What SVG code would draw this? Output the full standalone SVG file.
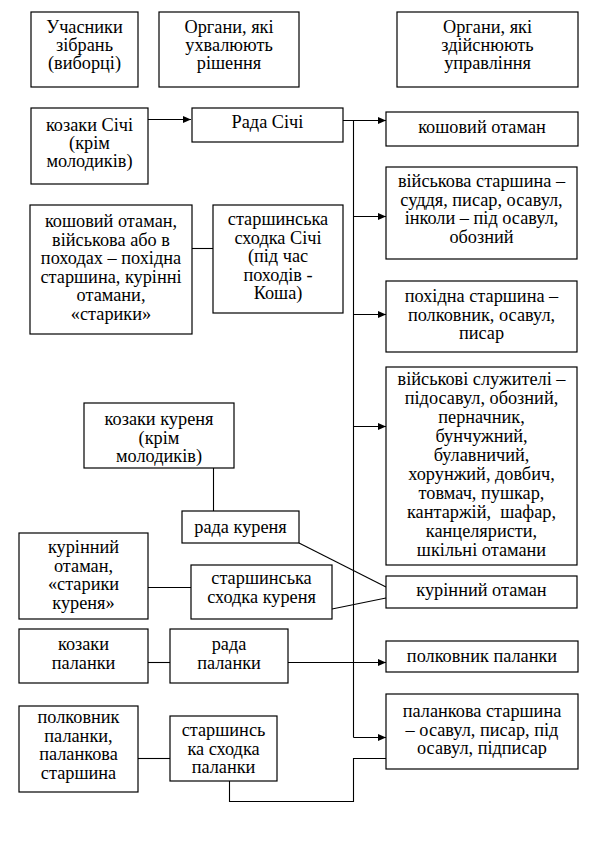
<svg xmlns="http://www.w3.org/2000/svg" width="598" height="858" viewBox="0 0 598 858">
<defs>
<style>
rect.b{fill:#fff;stroke:#000;stroke-width:1.2}
.t text{font-size:18.3px;fill:#000;text-anchor:middle}
.c line,.c polyline{stroke:#000;stroke-width:1.1;fill:none}
</style>
<marker id="ar" markerUnits="userSpaceOnUse" markerWidth="8" markerHeight="7" refX="8" refY="3.5" orient="auto">
<path d="M0,0 L8,3.5 L0,7 z" fill="#000"/>
</marker>
</defs>
<rect width="598" height="858" fill="#fff"/>

<g class="c" id="connectors">
<line x1="148" y1="119.5" x2="191" y2="119.5" marker-end="url(#ar)"/>
<line x1="343" y1="120.5" x2="386" y2="120.5" marker-end="url(#ar)"/>
<line x1="353.5" y1="120.5" x2="353.5" y2="737.5"/>
<line x1="353.5" y1="216.5" x2="386" y2="216.5" marker-end="url(#ar)"/>
<line x1="353.5" y1="314.5" x2="386" y2="314.5" marker-end="url(#ar)"/>
<line x1="353.5" y1="426.5" x2="386" y2="426.5" marker-end="url(#ar)"/>
<line x1="353.5" y1="737.5" x2="386" y2="737.5" marker-end="url(#ar)"/>
<line x1="192" y1="248.5" x2="213" y2="248.5"/>
<line x1="213.5" y1="468" x2="213.5" y2="511"/>
<line x1="299" y1="543" x2="386" y2="587"/>
<line x1="332" y1="609" x2="386" y2="598"/>
<line x1="148" y1="587.5" x2="191" y2="587.5"/>
<line x1="148" y1="662.5" x2="170" y2="662.5"/>
<line x1="288" y1="662.5" x2="386" y2="662.5" marker-end="url(#ar)"/>
<line x1="138" y1="758.5" x2="170" y2="758.5"/>
<polyline points="229.5,781 229.5,801.5 353.5,801.5 353.5,758.5 386,758.5"/>
</g>

<g class="t" font-family="'Liberation Serif', 'DejaVu Serif', serif">
<g id="h1"><rect class="b" x="31" y="12" width="107" height="75"/>
<text x="84.5" y="33">Учасники</text><text x="84.5" y="51">зібрань</text><text x="84.5" y="69">(виборці)</text></g>
<g id="h2"><rect class="b" x="159" y="12" width="140" height="75"/>
<text x="229" y="33">Органи, які</text><text x="229" y="51">ухвалюють</text><text x="229" y="69">рішення</text></g>
<g id="h3"><rect class="b" x="397" y="12" width="181" height="75"/>
<text x="487.5" y="33">Органи, які</text><text x="487.5" y="51">здійснюють</text><text x="487.5" y="69">управління</text></g>

<g id="kozaky-sichi"><rect class="b" x="31" y="108" width="117" height="76"/>
<text x="89.5" y="131">козаки Січі</text><text x="89.5" y="149">(крім</text><text x="89.5" y="167">молодиків)</text></g>
<g id="rada-sichi"><rect class="b" x="192" y="108" width="151" height="34"/>
<text x="267.5" y="128">Рада Січі</text></g>
<g id="koshovyi"><rect class="b" x="386" y="112" width="192" height="34"/>
<text x="482" y="133">кошовий отаман</text></g>

<g id="koshovyi-group"><rect class="b" x="30" y="205" width="162" height="129"/>
<text x="111" y="227">кошовий отаман,</text><text x="111" y="245.5">військова або в</text><text x="111" y="264">походах – похідна</text><text x="111" y="282.5">старшина, курінні</text><text x="111" y="301">отамани,</text><text x="111" y="319.5">«старики»</text></g>
<g id="starsh-skhodka-sichi"><rect class="b" x="213" y="205" width="130" height="108"/>
<text x="278" y="225">старшинська</text><text x="278" y="243.5">сходка Січі</text><text x="278" y="262">(під час</text><text x="278" y="280.5">походів -</text><text x="278" y="299">Коша)</text></g>

<g id="viiskova-starshyna"><rect class="b" x="386" y="167" width="191" height="92"/>
<text x="481.5" y="187">військова старшина –</text><text x="481.5" y="205.5">суддя, писар, осавул,</text><text x="481.5" y="224">інколи – під осавул,</text><text x="481.5" y="242.5">обозний</text></g>
<g id="pokhidna-starshyna"><rect class="b" x="386" y="281" width="191" height="71"/>
<text x="481.5" y="302">похідна старшина –</text><text x="481.5" y="320.5">полковник, осавул,</text><text x="481.5" y="339">писар</text></g>
<g id="sluzhyteli"><rect class="b" x="386" y="367" width="191" height="198"/>
<text x="481.5" y="385">військові служителі –</text><text x="481.5" y="404">підосавул, обозний,</text><text x="481.5" y="423">перначник,</text><text x="481.5" y="442">бунчужний,</text><text x="481.5" y="461">булавничий,</text><text x="481.5" y="480">хорунжий, довбич,</text><text x="481.5" y="499">товмач, пушкар,</text><text x="481.5" y="518" xml:space="preserve">кантаржій,  шафар,</text><text x="481.5" y="537">канцеляристи,</text><text x="481.5" y="556">шкільні отамани</text></g>

<g id="kozaky-kurenia"><rect class="b" x="84" y="403" width="150" height="65"/>
<text x="159" y="425">козаки куреня</text><text x="159" y="443.5">(крім</text><text x="159" y="462">молодиків)</text></g>
<g id="rada-kurenia"><rect class="b" x="182" y="511" width="117" height="32"/>
<text x="240.5" y="533">рада куреня</text></g>
<g id="kurinnyi-stariki"><rect class="b" x="19" y="533" width="129" height="86"/>
<text x="83.5" y="553">курінний</text><text x="83.5" y="571.5">отаман,</text><text x="83.5" y="590">«старики</text><text x="83.5" y="608.5">куреня»</text></g>
<g id="starsh-skhodka-kurenia"><rect class="b" x="191" y="565" width="141" height="54"/>
<text x="261.5" y="584">старшинська</text><text x="261.5" y="602.5">сходка куреня</text></g>
<g id="kurinnyi-otaman"><rect class="b" x="386" y="576" width="191" height="32"/>
<text x="481.5" y="596">курінний отаман</text></g>

<g id="kozaky-palanky"><rect class="b" x="19" y="629" width="129" height="54"/>
<text x="83.5" y="650">козаки</text><text x="83.5" y="668.5">паланки</text></g>
<g id="rada-palanky"><rect class="b" x="170" y="629" width="118" height="54"/>
<text x="229" y="650">рада</text><text x="229" y="668.5">паланки</text></g>
<g id="polkovnyk-palanky"><rect class="b" x="386" y="641" width="192" height="31"/>
<text x="482" y="662">полковник паланки</text></g>
<g id="palankova-starshyna"><rect class="b" x="386" y="694" width="192" height="75"/>
<text x="482" y="717">паланкова старшина</text><text x="482" y="735.5">– осавул, писар, під</text><text x="482" y="754">осавул, підписар</text></g>
<g id="polkovnyk-starshyna"><rect class="b" x="19" y="706" width="119" height="86"/>
<text x="78.5" y="723">полковник</text><text x="78.5" y="741.5">паланки,</text><text x="78.5" y="760">паланкова</text><text x="78.5" y="778.5">старшина</text></g>
<g id="starsh-skhodka-palanky"><rect class="b" x="170" y="716" width="107" height="65"/>
<text x="223.5" y="736">старшинсь</text><text x="223.5" y="754.5">ка сходка</text><text x="223.5" y="773">паланки</text></g>
</g>
</svg>
